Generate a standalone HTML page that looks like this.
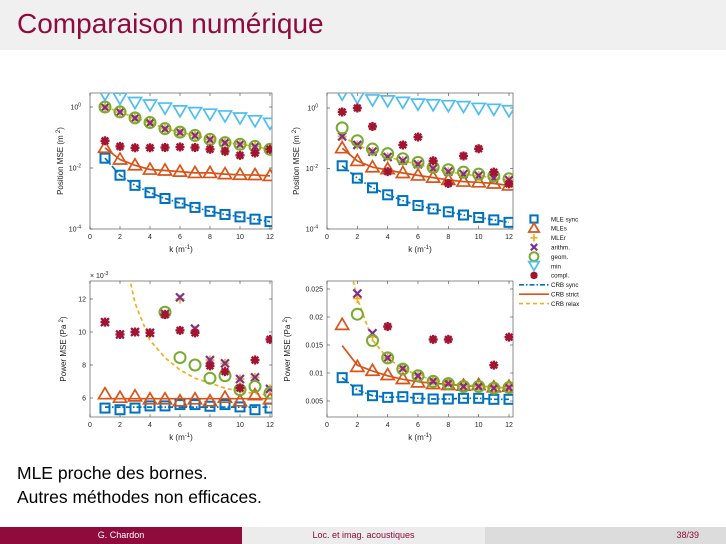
<!DOCTYPE html>
<html><head><meta charset="utf-8">
<style>
body{margin:0;width:726px;height:544px;overflow:hidden;background:#fff;font-family:"Liberation Sans",sans-serif;position:relative}
#hdr{position:absolute;left:0;top:0;width:726px;height:50px;background:#f0f0f0}
#title{position:absolute;left:17px;top:8px;font-size:28px;color:#8e0b3c}
.body{position:absolute;left:17px;font-size:17.5px;color:#000}
#foot{position:absolute;left:0;top:527px;width:726px;height:17px;font-size:9px}
#foot div{position:absolute;top:0;height:17px;line-height:17px;text-align:center}
svg text{font-family:"Liberation Sans",sans-serif}
</style></head><body>
<div id="hdr"></div>
<div id="title">Comparaison numérique</div>
<svg id="chart" width="726" height="544" style="position:absolute;left:0;top:0"></svg>
<div class="body" style="top:463px">MLE proche des bornes.</div>
<div class="body" style="top:487px">Autres méthodes non efficaces.</div>
<div id="foot">
<div style="left:0;width:242px;background:#8e0b3c;color:#fff">G. Chardon</div>
<div style="left:242px;width:243px;background:#ececec;color:#8e0b3c">Loc. et imag. acoustiques</div>
<div style="left:485px;width:241px;background:#dcdcdc;color:#8e0b3c;text-align:right"><span style="padding-right:27px">38/39</span></div>
</div>
<script>
const ks=[1,2,3,4,5,6,7,8,9,10,11,12];
// Panel 1: position MSE, scenario A
const p1Sync=[2.1e-2,5.8e-3,2.7e-3,1.55e-3,1.0e-3,7.1e-4,5.1e-4,3.8e-4,3.0e-4,2.5e-4,2.1e-4,1.75e-4];
const p1MLEs=[4.6e-2,1.9e-2,1.23e-2,8.9e-3,8.3e-3,7.6e-3,6.9e-3,6.9e-3,6.3e-3,6.0e-3,5.9e-3,5.5e-3];
const p1MLEr=[1.0,0.69,0.44,0.31,0.195,0.15,0.117,0.087,0.068,0.06,0.051,0.041];
const p1Arith=[0.97,0.68,0.43,0.3,0.19,0.148,0.115,0.085,0.067,0.059,0.05,0.04];
const p1Geom=[1.0,0.69,0.44,0.31,0.195,0.15,0.117,0.087,0.068,0.06,0.051,0.041];
const p1Min=[2.5,1.86,1.35,1.12,0.89,0.72,0.63,0.56,0.49,0.42,0.34,0.28];
const p1Compl=[0.078,0.051,0.046,0.046,0.047,0.049,0.047,0.041,0.035,0.026,0.031,0.041];
const p1CrbSync=[2.1e-2,5.8e-3,2.7e-3,1.55e-3,1.0e-3,7.1e-4,5.1e-4,3.8e-4,3.0e-4,2.5e-4,2.1e-4,1.75e-4];
const p1CrbStrict=[4.6e-2,1.9e-2,1.23e-2,8.9e-3,8.3e-3,7.6e-3,6.9e-3,6.9e-3,6.3e-3,6.0e-3,5.9e-3,5.5e-3];
const p1CrbRelax=[1.0,0.69,0.44,0.31,0.195,0.15,0.117,0.087,0.068,0.06,0.051,0.041];
// Panel 2: position MSE, scenario B
const p2Sync=[1.23e-2,4.8e-3,2.3e-3,1.35e-3,8.7e-4,6.0e-4,4.6e-4,3.7e-4,2.9e-4,2.4e-4,2.0e-4,1.66e-4];
const p2MLEs=[4.7e-2,1.78e-2,1.1e-2,9.5e-3,7.1e-3,5.9e-3,5.0e-3,4.2e-3,3.7e-3,3.5e-3,3.2e-3,2.75e-3];
const p2MLEr=[0.115,0.06,0.036,0.024,0.018,0.0138,0.01,0.0079,0.0065,0.0058,0.0048,0.0042];
const p2Arith=[0.115,0.06,0.036,0.024,0.018,0.0138,0.01,0.0079,0.0065,0.0058,0.0048,0.0042];
const p2Geom=[0.22,0.083,0.044,0.031,0.021,0.016,0.011,0.0091,0.0076,0.0065,0.0056,0.0046];
const p2Min=[2.75,2.14,1.78,1.66,1.48,1.29,1.23,1.15,1.07,0.93,0.87,0.78];
const p2Compl=[0.74,1.0,0.245,0.0079,0.06,0.11,0.018,0.0032,0.026,0.045,0.0076,0.0031];
const p2CrbSync=[1.23e-2,4.8e-3,2.3e-3,1.35e-3,8.7e-4,6.0e-4,4.6e-4,3.7e-4,2.9e-4,2.4e-4,2.0e-4,1.66e-4];
const p2CrbStrict=[4.7e-2,1.78e-2,1.1e-2,9.0e-3,7.1e-3,5.9e-3,5.0e-3,4.2e-3,3.7e-3,3.5e-3,3.2e-3,2.75e-3];
const p2CrbRelax=[0.115,0.06,0.036,0.024,0.018,0.0138,0.01,0.0079,0.0065,0.0058,0.0048,0.0042];
// Panel 3: power MSE (x1e-3), scenario A
const p3Sync=[5.39,5.29,5.39,5.52,5.52,5.6,5.6,5.5,5.6,5.46,5.29,5.39];
const p3MLEs=[6.23,6.02,6.1,5.92,5.92,5.8,5.92,5.8,6.02,5.8,6.17,5.92];
const p3MLEr=[10.6,9.85,10.0,9.95,11.1,12.0,10.1,8.3,8.1,7.15,7.25,6.55];
const p3Arith=[10.6,9.85,10.0,9.95,11.1,12.1,10.2,8.3,8.1,7.15,7.25,6.55];
const p3Geom=[null,null,null,null,11.2,8.45,8.0,7.2,7.35,6.5,6.7,6.3];
const p3Min=[null,null,null,null,null,null,null,null,null,null,null,null];
const p3Compl=[10.6,9.85,10.0,9.95,11.05,10.1,9.95,7.95,7.6,6.6,8.3,9.55];
const p3CrbSync=[5.45,5.45,5.45,5.45,5.45,5.45,5.45,5.45,5.45,5.45,5.45,5.45];
const p3CrbStrict=[5.96,5.96,5.96,5.96,5.96,5.96,5.96,5.96,5.96,5.96,5.96,5.96];
const p3CrbRelax=[40,16,11.75,9.5,8.44,7.7,7.2,6.9,6.6,6.4,6.27,6.17];
// Panel 4: power MSE, scenario B
const p4Sync=[0.00917,0.00696,0.00595,0.00565,0.00577,0.00548,0.00536,0.00536,0.00548,0.00548,0.0053,0.0053];
const p4MLEs=[0.0186,0.0111,0.0104,0.00964,0.00893,0.00833,0.00804,0.00786,0.00774,0.00786,0.00744,0.00756];
const p4MLEr=[null,0.0233,0.0165,0.0127,0.0108,0.0096,0.0086,0.0082,0.0077,0.0076,0.0073,0.0074];
const p4Arith=[null,0.0242,0.0171,0.0127,0.0108,0.0095,0.0085,0.0081,0.0076,0.0076,0.0073,0.0074];
const p4Geom=[null,0.0205,0.0158,0.0127,0.0107,0.0095,0.0085,0.0081,0.0076,0.0076,0.0073,0.0074];
const p4Min=[null,null,null,null,null,null,null,null,null,null,null,null];
const p4Compl=[null,null,null,0.0183,null,null,0.016,0.016,null,null,0.0114,0.0164];
const p4CrbSync=[0.00917,0.00696,0.00595,0.00565,0.00577,0.00548,0.00536,0.00536,0.00548,0.00548,0.0053,0.0053];
const p4CrbStrict=[0.0149,0.0114,0.01035,0.0095,0.00887,0.00845,0.00815,0.008,0.00774,0.00762,0.0075,0.00726];
const p4CrbRelax=[0.035,0.0233,0.0159,0.0126,0.0108,0.0096,0.00875,0.00827,0.00786,0.00774,0.00744,0.00738];
const logTicks=[1e-4,1e-2,1];
const logTickLabels=["-4","-2","0"];
const p3Ticks=[6,8,10,12];
const p4Ticks=[0.005,0.01,0.015,0.02,0.025];
const p4TickLabels=["0.005","0.01","0.015","0.02","0.025"];
const xTicks=[0,2,4,6,8,10,12];
const legendLabels=["MLE sync","MLEs","MLEr","arithm.","geom.","min","compl.","CRB sync","CRB strict","CRB relax"];

const C={blue:"#0072BD",orange:"#D95319",yellow:"#EDB120",purple:"#7E2F8E",green:"#77AC30",cyan:"#4DBEEE",red:"#A2142F"};
const NS="http://www.w3.org/2000/svg";
const svg=document.getElementById('chart');
function mk(tag,attrs,parent){const e=document.createElementNS(NS,tag);for(const k in attrs)e.setAttribute(k,attrs[k]);(parent||svg).appendChild(e);return e;}

function marker(g,type,x,y,s){
  s=s||1;
  let e;
  if(type==='sq'){e=mk('rect',{x:x-4.5*s,y:y-4.5*s,width:9*s,height:9*s,fill:'none',stroke:C.blue,'stroke-width':2},g);}
  else if(type==='tri'){e=mk('polygon',{points:`${x},${y-6.5*s} ${x-6.5*s},${y+4.5*s} ${x+6.5*s},${y+4.5*s}`,fill:'none',stroke:C.orange,'stroke-width':1.7},g);}
  else if(type==='plus'){e=mk('path',{d:`M${x-4.5*s},${y}H${x+4.5*s}M${x},${y-4.5*s}V${y+4.5*s}`,stroke:C.yellow,'stroke-width':1.7},g);}
  else if(type==='x'){e=mk('path',{d:`M${x-4*s},${y-4*s}L${x+4*s},${y+4*s}M${x-4*s},${y+4*s}L${x+4*s},${y-4*s}`,stroke:C.purple,'stroke-width':2.2},g);}
  else if(type==='o'){e=mk('circle',{cx:x,cy:y,r:5.5*s,fill:'none',stroke:C.green,'stroke-width':2},g);}
  else if(type==='dtri'){e=mk('polygon',{points:`${x},${y+5.5*s} ${x-6.5*s},${y-5.5*s} ${x+6.5*s},${y-5.5*s}`,fill:'none',stroke:C.cyan,'stroke-width':1.7},g);}
  else if(type==='star'){e=mk('path',{d:`M${x-4.5*s},${y}H${x+4.5*s}M${x},${y-4.5*s}V${y+4.5*s}M${x-3.3*s},${y-3.3*s}L${x+3.3*s},${y+3.3*s}M${x-3.3*s},${y+3.3*s}L${x+3.3*s},${y-3.3*s}`,stroke:C.red,'stroke-width':2.4},g);}
  return e;
}

let clipId=0;
function panel(cfg){
  const g=mk('g',{});
  
  
  const {L,R,T,B,x0,x12}=cfg;
  const sx=k=>x0+k*(x12-x0)/12;
  const sy=cfg.sy;
  const id='clip'+(clipId++);
  const cp=mk('clipPath',{id:id},g);mk('rect',{x:L,y:T,width:R-L,height:B-T},cp);
  const frame=mk('rect',{x:L,y:T,width:R-L,height:B-T,fill:'none',stroke:'#444','stroke-width':0.6},g);
  
  
  xTicks.forEach(t=>{
    const x=sx(t);
    mk('line',{x1:x,x2:x,y1:B,y2:B-3,stroke:'#444','stroke-width':0.6},g);
    mk('line',{x1:x,x2:x,y1:T,y2:T+3,stroke:'#444','stroke-width':0.6},g);
    const tx=mk('text',{x:x,y:B+10,'font-size':7,'text-anchor':'middle',fill:'#222'},g);
    tx.textContent=t;
    
    
  });
  const xl=mk('text',{x:(L+R)/2,y:B+23,'font-size':8,'text-anchor':'middle',fill:'#222'},g);
  xl.innerHTML='k (m<tspan dy="-3" font-size="6">-1</tspan><tspan dy="3">)</tspan>';
  
  
  cfg.yticks.forEach((t,i)=>{
    const y=sy(t);
    mk('line',{x1:L,x2:L+3,y1:y,y2:y,stroke:'#444','stroke-width':0.6},g);
    mk('line',{x1:R,x2:R-3,y1:y,y2:y,stroke:'#444','stroke-width':0.6},g);
    const tx=mk('text',{x:L-4,y:y+2.5,'font-size':7,'text-anchor':'end',fill:'#222'},g);
    if(cfg.log){tx.innerHTML='10<tspan dy="-3" font-size="5">'+logTickLabels[i]+'</tspan>';tx.setAttribute('x',L-9);}
    else tx.textContent=cfg.ylabels[i];
    
    
  });
  const yl=mk('text',{x:0,y:0,'font-size':8,'text-anchor':'middle',fill:'#222',transform:`translate(${cfg.ylx},${(T+B)/2}) rotate(-90)`},g);
  yl.innerHTML=cfg.ytitle;
  
  
  if(cfg.mult){const m=mk('text',{x:L,y:T-3,'font-size':7,fill:'#222'},g);m.innerHTML='× 10<tspan dy="-3" font-size="5">-3</tspan>';
    
    }
  const pg=mk('g',{'clip-path':`url(#${id})`},g);
  function line(arr,color,dash,name){
    let d='';arr.forEach((v,i)=>{if(v==null)return;d+=(d?'L':'M')+sx(ks[i]).toFixed(1)+','+sy(v).toFixed(1);});
    const p=mk('path',{d:d,fill:'none',stroke:color,'stroke-width':1.7,'stroke-dasharray':dash},pg);
    
    
  }
  line(cfg.d.crbSync,C.blue,'5,2,1.5,2','crb-sync-line');
  line(cfg.d.crbStrict,C.orange,'none','crb-strict-line');
  line(cfg.d.crbRelax,C.yellow,'4,3','crb-relax-line');
  const series=[['sync','sq','mle-sync'],['mles','tri','mles'],['mler','plus','mler'],['arith','x','arithm'],['geom','o','geom'],['min','dtri','min'],['compl','star','compl']];
  series.forEach(([key,type,nm])=>{
    const sg=mk('g',{},pg);
    
    
    cfg.d[key].forEach((v,i)=>{if(v==null)return;const m=marker(sg,type,sx(ks[i]),sy(v));
      
      });
  });
}
const logY=(y0,pd)=>v=>y0-Math.log10(v)*pd;
panel({name:'position-panel-a',L:90,R:272,T:93,B:229,x0:90,x12:270,log:true,sy:logY(107,30.5),yticks:logTicks,ylx:63,
  ytitle:'Position MSE (m <tspan dy="-3" font-size="6">2</tspan><tspan dy="3">)</tspan>',
  d:{sync:p1Sync,mles:p1MLEs,mler:p1MLEr,arith:p1Arith,geom:p1Geom,min:p1Min,compl:p1Compl,crbSync:p1CrbSync,crbStrict:p1CrbStrict,crbRelax:p1CrbRelax}});
panel({name:'position-panel-b',L:327,R:513,T:93,B:229,x0:327,x12:509,log:true,sy:logY(108,30.25),yticks:logTicks,ylx:299,
  ytitle:'Position MSE (m <tspan dy="-3" font-size="6">2</tspan><tspan dy="3">)</tspan>',
  d:{sync:p2Sync,mles:p2MLEs,mler:p2MLEr,arith:p2Arith,geom:p2Geom,min:p2Min,compl:p2Compl,crbSync:p2CrbSync,crbStrict:p2CrbStrict,crbRelax:p2CrbRelax}});
panel({name:'power-panel-a',L:90,R:272,T:281,B:417,x0:90,x12:270,log:false,sy:v=>299+(12-v)*16.5,yticks:p3Ticks,ylabels:p3Ticks,ylx:66,mult:true,
  ytitle:'Power MSE (Pa <tspan dy="-3" font-size="6">2</tspan><tspan dy="3">)</tspan>',
  d:{sync:p3Sync,mles:p3MLEs,mler:p3MLEr,arith:p3Arith,geom:p3Geom,min:p3Min,compl:p3Compl,crbSync:p3CrbSync,crbStrict:p3CrbStrict,crbRelax:p3CrbRelax}});
panel({name:'power-panel-b',L:327,R:513,T:281,B:417,x0:327,x12:509,log:false,sy:v=>289+(0.025-v)*5600,yticks:p4Ticks,ylabels:p4TickLabels,ylx:290,
  ytitle:'Power MSE (Pa <tspan dy="-3" font-size="6">2</tspan><tspan dy="3">)</tspan>',
  d:{sync:p4Sync,mles:p4MLEs,mler:p4MLEr,arith:p4Arith,geom:p4Geom,min:p4Min,compl:p4Compl,crbSync:p4CrbSync,crbStrict:p4CrbStrict,crbRelax:p4CrbRelax}});
const lg=mk('g',{});


const ltypes=['sq','tri','plus','x','o','dtri','star'];
legendLabels.forEach((lab,i)=>{
  const y=219+i*9.4;
  const eg=mk('g',{},lg);
  
  
  if(i<7){marker(eg,ltypes[i],534,y,0.8);}
  else{const col=[C.blue,C.orange,C.yellow][i-7];const da=['5,2,1.5,2','none','4,3'][i-7];
    mk('line',{x1:519,x2:549,y1:y,y2:y,stroke:col,'stroke-width':1.6,'stroke-dasharray':da},eg);}
  const t=mk('text',{x:551,y:y+2.3,'font-size':6.2,fill:'#111'},eg);
  t.textContent=lab;
});
</script>
</body></html>
